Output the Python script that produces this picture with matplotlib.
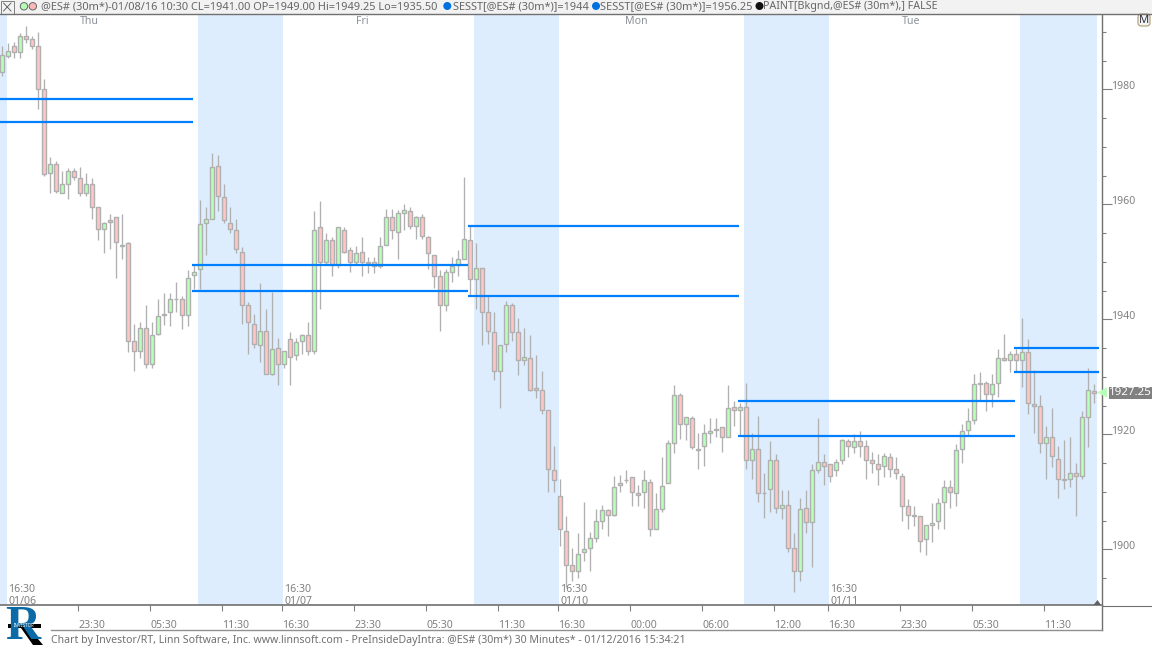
#!/usr/bin/env python3
"""Investor/RT style 30 minute ES candlestick chart with session shading."""

import matplotlib
matplotlib.use("Agg")
import matplotlib.pyplot as plt
from matplotlib.patches import Circle, FancyBboxPatch, Polygon, Rectangle
from matplotlib.ticker import MultipleLocator

# one entry per 30 minute bar
opens = [
    1983, 1985.75, 1987.5, 1986.5, 1989.25, 1988.75, 1987.5, 1980, 1965.5, 1967,
    1962, 1963.5, 1965.75, 1964.5, 1962, 1963.5, 1959.5, 1955.75, 1957.25, 1957.75,
    1953, 1953.25, 1936.25, 1934.5, 1938.5, 1932.25, 1937.5, 1940.75, 1941.25, 1943.5,
    1943.5, 1940.75, 1947.75, 1948.75, 1956.75, 1957.5, 1966.75, 1961.25, 1956.75, 1955.5,
    1951.75, 1942.5, 1939.25, 1935.5, 1938, 1930.5, 1935, 1932.25, 1936.5, 1933.75,
    1936.25, 1937.25, 1934.5, 1956, 1950, 1953.75, 1949.5, 1955.5, 1952, 1950,
    1951.75, 1950, 1950, 1949.25, 1953, 1957.75, 1955.25, 1958.5, 1958.75, 1956.25,
    1957.75, 1954.25, 1951.25, 1947.5, 1942.5, 1948.25, 1949.5, 1950.5, 1953.75, 1947,
    1949, 1941.25, 1937.75, 1931, 1935.75, 1942.5, 1937.75, 1933, 1933.25, 1928,
    1927.75, 1924.25, 1913.75, 1909.25, 1903.25, 1897.25, 1896.25, 1899.5, 1900.25, 1902,
    1905, 1906.75, 1906, 1911.25, 1912, 1912.5, 1909.75, 1910, 1911.75, 1903.5,
    1907, 1911.5, 1918.5, 1926.75, 1921.75, 1922.75, 1917.5, 1918, 1920.25, 1920.75,
    1921.25, 1919.5, 1924.75, 1924.25, 1924.75, 1915.5, 1917.5, 1909.75, 1910.5, 1915.5,
    1907.25, 1907.75, 1900.25, 1896.25, 1907.25, 1904.75, 1913.75, 1915.25, 1914.75, 1913.75,
    1915.5, 1918.75, 1917.75, 1918.75, 1918, 1915.5, 1914.75, 1914.5, 1916, 1914,
    1912.75, 1907.5, 1906, 1905.75, 1901.75, 1904.25, 1905, 1908.25, 1910.75, 1909.75,
    1917.5, 1920.75, 1922.5, 1929, 1929, 1927, 1929, 1933.25, 1933, 1934,
    1933, 1934.25, 1925.25, 1925, 1918.5, 1919.5, 1915.75, 1912.25, 1912.25, 1913.25,
    1912.75, 1923, 1927.5,
]
highs = [
    1987.5, 1988, 1988.25, 1989.75, 1991, 1989.25, 1990, 1981.75, 1968.25, 1967.5,
    1965.75, 1966.25, 1966.25, 1966.5, 1965.5, 1964.5, 1959.5, 1957, 1958.25, 1957.75,
    1958.25, 1953.5, 1939.25, 1939.5, 1942.5, 1939.5, 1943.5, 1944.5, 1944.5, 1946.5,
    1944, 1948.5, 1949.5, 1960.75, 1959.5, 1969, 1968.5, 1963.5, 1959.5, 1957.5,
    1952.5, 1943, 1941, 1946.25, 1941.75, 1944.75, 1936.75, 1934.5, 1937.75, 1936.75,
    1937.5, 1939.5, 1958.75, 1960.5, 1955, 1954.25, 1956, 1956, 1952.5, 1952.75,
    1954.25, 1950.75, 1950.75, 1954.25, 1959.25, 1959.25, 1959, 1960, 1959.5, 1958,
    1958.25, 1954.5, 1951.25, 1948.5, 1948.75, 1950.75, 1952, 1964.75, 1956.25, 1953.25,
    1949, 1944, 1941.25, 1935.5, 1943.25, 1942.75, 1940.25, 1938.5, 1937.25, 1933.75,
    1931, 1924.25, 1918, 1912.25, 1905.75, 1900.25, 1902.75, 1908.25, 1903, 1907,
    1907.75, 1907, 1912.75, 1913, 1913.75, 1912.5, 1911.25, 1913.75, 1912.25, 1909.75,
    1916, 1919, 1928.5, 1927.25, 1923, 1923.25, 1920.25, 1921.75, 1922.75, 1922.75,
    1921.25, 1928.5, 1925.75, 1925.5, 1929, 1920.25, 1923.25, 1913.25, 1918.75, 1916.5,
    1910.25, 1910.25, 1902.75, 1909, 1910.25, 1914.75, 1922.75, 1916.5, 1914.75, 1915.75,
    1919.25, 1919.25, 1920, 1920.5, 1919, 1917, 1916.5, 1916.75, 1916.75, 1916,
    1913.25, 1908.75, 1907.5, 1905.75, 1904.25, 1908, 1909, 1912, 1912, 1918.25,
    1921.75, 1924.5, 1930.5, 1930.75, 1929.25, 1930.5, 1934.75, 1937.5, 1934.5, 1934.75,
    1940.25, 1936.5, 1931.25, 1926.75, 1921.5, 1924.5, 1918, 1919, 1919.5, 1915,
    1924, 1931.5, 1928.75,
]
lows = [
    1982.25, 1985.5, 1985.5, 1985.5, 1988, 1987, 1976.5, 1965, 1962, 1962,
    1962, 1961, 1964.25, 1961.5, 1961.5, 1957.5, 1953.75, 1951.5, 1952.25, 1947.25,
    1950.5, 1934.25, 1931, 1933.25, 1931.5, 1931.5, 1937.25, 1939, 1938.75, 1941.25,
    1938.25, 1938.75, 1945.25, 1945.25, 1951.25, 1957.5, 1958.75, 1956.75, 1955, 1951.5,
    1939.25, 1934, 1935, 1932.5, 1930.5, 1930.25, 1928.5, 1931.5, 1928.5, 1933,
    1934, 1933.75, 1934, 1941.75, 1949.5, 1947.5, 1949, 1951.5, 1948.25, 1949.5,
    1947.5, 1948, 1948, 1949, 1953, 1954, 1950.5, 1955.5, 1955.75, 1954,
    1954, 1948.75, 1945.5, 1938, 1941.5, 1946.5, 1947.5, 1950.5, 1944.25, 1941.75,
    1935.5, 1935.75, 1929.5, 1924.5, 1934.25, 1936.25, 1930.25, 1932, 1927.5, 1926.25,
    1923.5, 1910, 1910, 1900.5, 1893.5, 1894.5, 1895, 1898, 1896.25, 1901.25,
    1903.5, 1902.25, 1905.75, 1910, 1911.5, 1907.5, 1907.5, 1907.25, 1902.25, 1903.5,
    1906.5, 1911.5, 1916.75, 1919.25, 1919, 1917.5, 1914, 1914.5, 1918.5, 1919.5,
    1917, 1919.5, 1921.5, 1919.75, 1914, 1912.25, 1908.25, 1905.5, 1906.5, 1906.25,
    1905.25, 1899.5, 1892.5, 1894.5, 1902.75, 1897, 1913.25, 1911.25, 1911.75, 1912.75,
    1914.75, 1916, 1916.75, 1916, 1912.25, 1913.25, 1911.25, 1912.5, 1912.5, 1912.25,
    1905, 1903.5, 1904, 1899.5, 1899, 1901.25, 1903.5, 1903.5, 1907.25, 1907.5,
    1915, 1919.75, 1921.75, 1926, 1924, 1924.75, 1926.5, 1932.75, 1930.75, 1930.75,
    1928.25, 1923.5, 1920.25, 1916.75, 1912.25, 1914.25, 1909, 1910.5, 1910.75, 1905.75,
    1912.25, 1917.75, 1925.5,
]
closes = [
    1986, 1986.75, 1986.5, 1989.25, 1988.75, 1987.5, 1980, 1965.25, 1967, 1962.25,
    1963.5, 1965.75, 1964.75, 1962, 1963.5, 1959.5, 1955.75, 1956.75, 1957, 1953.5,
    1952.75, 1936.25, 1934.5, 1938.5, 1932.25, 1937.25, 1940.5, 1941, 1943.5, 1943.5,
    1940.75, 1947.25, 1948.25, 1956.5, 1957.5, 1966.5, 1961.5, 1957.25, 1955.75, 1952.25,
    1942.5, 1939.5, 1935.75, 1938, 1930.5, 1934.75, 1932.25, 1934.5, 1933.5, 1936,
    1937.25, 1934.5, 1955.5, 1950, 1953.75, 1949.5, 1956, 1951.75, 1950, 1951.5,
    1950, 1949.75, 1949.25, 1952.75, 1957.75, 1955.5, 1958.5, 1959, 1956.25, 1957.75,
    1954.5, 1951.5, 1947.5, 1942.5, 1948.25, 1949.25, 1950.5, 1954, 1947, 1949,
    1941.25, 1938, 1931, 1935.5, 1942.5, 1937.75, 1933, 1933.5, 1927.75, 1927.75,
    1924.25, 1914, 1912, 1903.5, 1897.25, 1896.25, 1899.25, 1900, 1902, 1905,
    1906.75, 1906, 1910.75, 1911.5, 1912, 1910, 1909.5, 1912, 1903.5, 1907,
    1911, 1918.5, 1926.75, 1921.75, 1923, 1917.75, 1917.25, 1920.25, 1920.5, 1921,
    1919.5, 1924.5, 1924.25, 1924.75, 1915.5, 1917.5, 1909.75, 1909.75, 1915.5, 1907.25,
    1907.75, 1900.25, 1896.25, 1907, 1904.75, 1913.75, 1915.25, 1914.5, 1912.75, 1915.25,
    1919, 1918, 1918.75, 1918, 1915.5, 1915, 1914, 1916.25, 1914, 1913.25,
    1907.5, 1906, 1905.75, 1901.5, 1904.25, 1904.5, 1908, 1910.75, 1910, 1917.25,
    1920.5, 1922.25, 1928.75, 1928.75, 1927, 1928.75, 1933.25, 1933, 1934, 1933,
    1934.25, 1925.5, 1925, 1918.5, 1919.5, 1916.25, 1912.25, 1912, 1913.25, 1912.75,
    1923, 1927.75, 1927.25,
]

# shaded sessions, in bar numbers
shade_starts = [-1, 32.62, 78.62, 123.62, 169.62]
shade_ends = [0.73, 46.73, 92.75, 137.73, 182.45]

# session level lines: price, first bar, last bar
level_prices = [1978.25, 1974.25, 1949.5, 1945, 1956.25, 1944, 1925.75, 1919.75, 1935, 1930.75]
level_starts = [-1, -1, 31.6, 31.6, 77.6, 77.6, 122.6, 122.6, 168.6, 168.6]
level_ends = [31.8, 31.8, 77.6, 77.6, 122.8, 122.8, 168.8, 168.8, 182.8, 182.8]

time_ticks = [12.67, 24.67, 36.67, 46.67, 58.67, 70.67, 82.67, 92.67, 104.67, 116.67,
              128.67, 137.67, 149.67, 161.67, 173.67]
time_labels = ["23:30", "05:30", "11:30", "16:30", "23:30", "05:30", "11:30", "16:30",
               "00:00", "06:00", "12:00", "16:30", "23:30", "05:30", "11:30"]

day_names = ["Thu", "Fri", "Mon", "Tue"]
day_bars = [14.5, 60, 105.7, 151.5]
date_names = ["01/06", "01/07", "01/10", "01/11"]
date_bars = [1.0, 47.0, 93.0, 138.0]

last_price = 1927.25

header_main = "@ES# (30m*)-01/08/16 10:30 CL=1941.00 OP=1949.00 Hi=1949.25 Lo=1935.50"
footer = ("Chart by Investor/RT, Linn Software, Inc. www.linnsoft.com - "
          "PreInsideDayIntra: @ES# (30m*) 30 Minutes* - 01/12/2016 15:34:21")

FONT = "Noto Sans"
TEXT_GREY = "#808080"
EDGE = "#B0B0B0"
W, H = 1152, 647

plt.rcParams["font.family"] = FONT
plt.rcParams["font.size"] = 7.6

fig = plt.figure(figsize=(W / 100, H / 100), dpi=100, facecolor="white")
ax = fig.add_axes([0, 1 - 605 / H, 1101.5 / W, 591 / H])
ax.set_xlim(-0.383, 183.2)
ax.set_ylim(1890.31, 1993.1)

for start, end in zip(shade_starts, shade_ends):
    ax.axvspan(start, end, color="#DEEDFE", lw=0, zorder=1)

for i in range(len(opens)):
    up = closes[i] >= opens[i]
    ax.vlines(i, lows[i], highs[i], color=EDGE, lw=0.95, zorder=2)
    ax.bar(i, abs(closes[i] - opens[i]), bottom=min(opens[i], closes[i]), width=0.72,
           facecolor="#B8FFB8" if up else "#FFC6C6", edgecolor=EDGE, lw=1.0, zorder=3)

ax.hlines(level_prices, level_starts, level_ends, color="#0080FF", lw=1.6, zorder=4)

for spine in ("left", "top"):
    ax.spines[spine].set_visible(False)
ax.spines["right"].set_color("#707070")
ax.spines["bottom"].set_color("#707070")
ax.spines["right"].set_linewidth(1.0)
ax.spines["bottom"].set_linewidth(1.2)

ax.yaxis.tick_right()
ax.yaxis.set_major_locator(MultipleLocator(20))
ax.yaxis.set_minor_locator(MultipleLocator(5))
ax.tick_params(axis="y", which="major", length=7, width=0.8, color="#808080", pad=0,
               labelcolor=TEXT_GREY)
ax.tick_params(axis="y", which="minor", length=3, width=0.8, color="#808080")
for label in ax.get_yticklabels():
    label.set_verticalalignment("baseline")

ax.set_xticks(time_ticks)
ax.set_xticklabels(time_labels, ha="left")
ax.tick_params(axis="x", length=4.5, width=0.8, color="#808080", pad=6.5, labelcolor=TEXT_GREY)

for name, bar in zip(day_names, day_bars):
    ax.text(bar, 1992.7, name, ha="center", va="top", color="#8A9099", zorder=5)
for name, bar in zip(date_names, date_bars):
    ax.text(bar, 1893.05, "16:30", ha="left", va="center", color=TEXT_GREY, zorder=5)
    ax.text(bar, 1890.95, name, ha="left", va="center", color=TEXT_GREY, zorder=5)

# window furniture in pixel coordinates
over = fig.add_axes([0, 0, 1, 1], zorder=10)
over.set_xlim(0, W)
over.set_ylim(H, 0)
over.axis("off")

over.add_patch(Rectangle((0, 0), W, 13.5, facecolor="#F2F2F2", edgecolor="none"))
over.plot([0, W], [13.5, 13.5], color="#707070", lw=1.0)
over.add_patch(Rectangle((0.5, 0.5), 13.5, 13, facecolor="#F2F2F2", edgecolor="#808080", lw=0.7))
over.plot([3.5, 11], [3, 11], color="#505050", lw=0.6)
over.plot([3.5, 11], [11, 3], color="#505050", lw=0.6)
over.add_patch(Circle((24, 6.3), 3.7, facecolor="#B4FFB4", edgecolor="#666666", lw=0.7))
over.add_patch(Circle((32.8, 6.3), 3.7, facecolor="#FFB8B8", edgecolor="#666666", lw=0.7))

over.text(41, 7, header_main, va="center", color="#666666", fontsize=7.9)
for dot_x, color, txt_x, txt, size in [
        (447.3, "#0070E0", 452.7, "SESST[@ES# (30m*)]=1944", 7.9),
        (596, "#0070E0", 600, "SESST[@ES# (30m*)]=1956.25", 7.95),
        (759.5, "#101010", 763.3, "PAINT[Bkgnd,@ES# (30m*),] FALSE", 7.7)]:
    over.add_patch(Circle((dot_x, 6), 4.0, facecolor=color, edgecolor="none"))
    over.text(txt_x, 7, txt, va="center", color="#666666", fontsize=size)

over.add_patch(FancyBboxPatch((1140, 16), 8, 8, boxstyle="round,pad=2,rounding_size=3",
                              facecolor="#F4F4F4", edgecolor="#B09A70", lw=0.8))
over.text(1144, 20.5, "M", ha="center", va="center", color="#303040", fontsize=8)

# last price flag
over.add_patch(Polygon([[1097, 392.5], [1107, 387.5], [1107, 397.5]], facecolor="#B8FFB8",
                       edgecolor="none"))
over.add_patch(Rectangle((1109, 386.5), 43, 12, facecolor="#808080", edgecolor="none"))
over.text(1130.5, 392.5, f"{last_price:.2f}", ha="center", va="center", color="white", fontsize=8.3)

# bottom strip
over.plot([1101.5, W], [605.5, 605.5], color="#707070", lw=0.8)
over.plot([1101.5, 1101.5], [605, 630], color="#707070", lw=1.0)
over.plot([51, 1101.5], [630.3, 630.3], color="#909090", lw=1.0)
over.add_patch(Polygon([[1093.5, 605], [1097.5, 600], [1101, 605]], facecolor="#606060",
                       edgecolor="none"))
over.text(51, 640, footer, va="center", color="#707070", fontsize=7.6)

# logo
over.text(23, 627, "R", ha="center", va="center", color="#0C6AA6", fontsize=35, fontweight="bold",
          family="Liberation Serif")
over.add_patch(Polygon([[21, 628], [29, 628], [43, 645], [33, 645]], facecolor="black",
                       edgecolor="none"))
over.add_patch(Rectangle((8, 623.5), 33, 4, facecolor="black", edgecolor="none"))
over.text(24.5, 625.6, "INVESTOR", ha="center", va="center", color="white", fontsize=3.2,
          fontweight="bold")

fig.savefig("out.png", dpi=100)
